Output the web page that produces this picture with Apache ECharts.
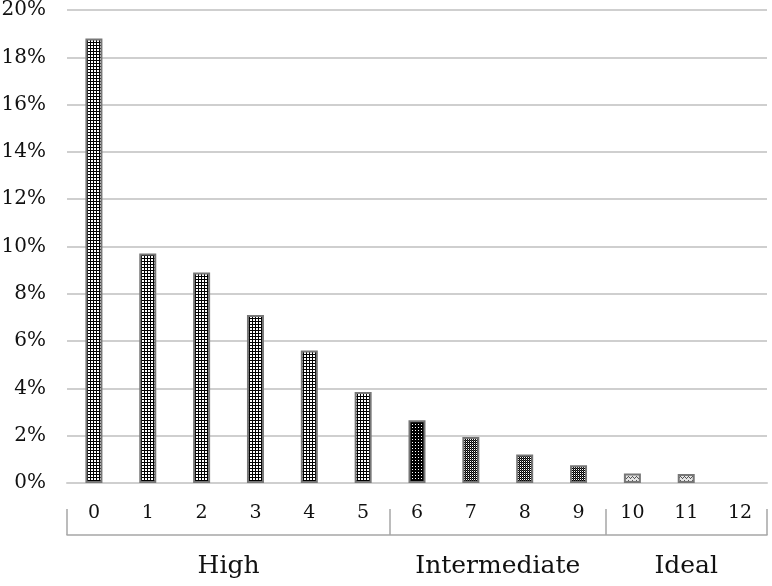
<!DOCTYPE html>
<html>
<head>
<meta charset="utf-8">
<script src="https://cdn.jsdelivr.net/npm/echarts@6/dist/echarts.min.js"></script>
<style>html,body{margin:0;padding:0;background:#fff}#c{width:772px;height:586px}</style>
</head>
<body>
<div id="c"></div>
<script>
var categories = ['0','1','2','3','4','5','6','7','8','9','10','11','12'];
var shares = [18.8, 9.7, 8.9, 7.1, 5.6, 3.85, 2.65, 1.95, 1.2, 0.75, 0.4, 0.38, 0];
var groupNames = ['High', 'Intermediate', 'Ideal'];
var groupFirst = [0, 6, 10];
var groupLast = [5, 9, 12];
var yTicks = [0, 2, 4, 6, 8, 10, 12, 14, 16, 18, 20];

function tile(w, h, draw) {
  var c = document.createElement('canvas');
  c.width = w; c.height = h;
  var ctx = c.getContext('2d');
  draw(ctx);
  return c;
}
var gridTile = tile(3, 3, function (x) {
  x.fillStyle = '#fff'; x.fillRect(0, 0, 3, 3);
  x.fillStyle = '#000'; x.fillRect(0, 0, 3, 1); x.fillRect(0, 0, 1, 3);
});
var darkDotTile = tile(3, 3, function (x) {
  x.fillStyle = '#000'; x.fillRect(0, 0, 3, 3);
  x.fillStyle = '#fff'; x.fillRect(1, 1, 1, 1);
});
var checkTile = tile(2, 2, function (x) {
  x.fillStyle = '#fff'; x.fillRect(0, 0, 2, 2);
  x.fillStyle = '#000'; x.fillRect(0, 0, 1, 1); x.fillRect(1, 1, 1, 1);
  x.fillStyle = '#444'; x.fillRect(1, 0, 1, 1);
});
var hatchTile = tile(4, 4, function (x) {
  x.fillStyle = '#e4e4e4'; x.fillRect(0, 0, 4, 4);
  x.fillStyle = '#555';
  x.fillRect(0, 0, 1, 1); x.fillRect(1, 1, 1, 1); x.fillRect(2, 2, 1, 1); x.fillRect(3, 1, 1, 1);
});

function groupOf(i) {
  for (var g = 0; g < groupFirst.length; g++) if (i >= groupFirst[g] && i <= groupLast[g]) return g;
  return 0;
}
function patternFor(i) {
  var g = groupOf(i);
  if (g === 0) return gridTile;
  if (g === 1) return i === groupFirst[1] ? darkDotTile : checkTile;
  return hatchTile;
}

var barData = shares.map(function (v, i) {
  return {
    value: v,
    itemStyle: {
      color: { image: patternFor(i), repeat: 'repeat' },
      borderWidth: v > 0 ? 2 : 0
    }
  };
});

var bounds = [groupFirst[0] - 0.5].concat(groupLast.map(function (l) { return l + 0.5; }));
var centers = groupFirst.map(function (f, g) { return (f + groupLast[g]) / 2; });

var font = 'DejaVu Serif';
var chart = echarts.init(document.getElementById('c'), null, { renderer: 'canvas' });
chart.setOption({
  animation: false,
  grid: { left: 67, right: 5, top: 10, bottom: 103, containLabel: false, outerBoundsMode: 'none' },
  xAxis: [{
    type: 'category',
    data: categories,
    axisLine: { show: true, lineStyle: { color: '#cfcfcf', width: 2 } },
    axisTick: { show: false },
    axisLabel: { color: '#111', fontFamily: font, fontSize: 19, margin: 21 }
  }, {
    type: 'value',
    min: bounds[0], max: bounds[bounds.length - 1],
    position: 'bottom', offset: 52,
    axisLine: { show: true, lineStyle: { color: '#a6a6a6', width: 1.5 } },
    axisTick: { show: true, inside: true, length: 26, customValues: bounds, lineStyle: { color: '#a6a6a6', width: 1.5 } },
    splitLine: { show: false },
    axisLabel: {
      customValues: centers, color: '#111', fontFamily: font, fontSize: 25, margin: 19,
      formatter: function (v) { var k = centers.indexOf(v); return k >= 0 ? groupNames[k] : ''; }
    }
  }],
  yAxis: {
    type: 'value', min: yTicks[0], max: yTicks[yTicks.length - 1], interval: 2,
    axisLine: { show: false }, axisTick: { show: false },
    splitLine: { lineStyle: { color: '#cfcfcf', width: 2 } },
    axisLabel: { color: '#111', fontFamily: font, fontSize: 20, margin: 21, formatter: '{value}%' }
  },
  series: [{
    type: 'bar',
    xAxisIndex: 0,
    data: barData,
    barWidth: 17,
    itemStyle: { borderColor: '#777' }
  }]
});
</script>
</body>
</html>
